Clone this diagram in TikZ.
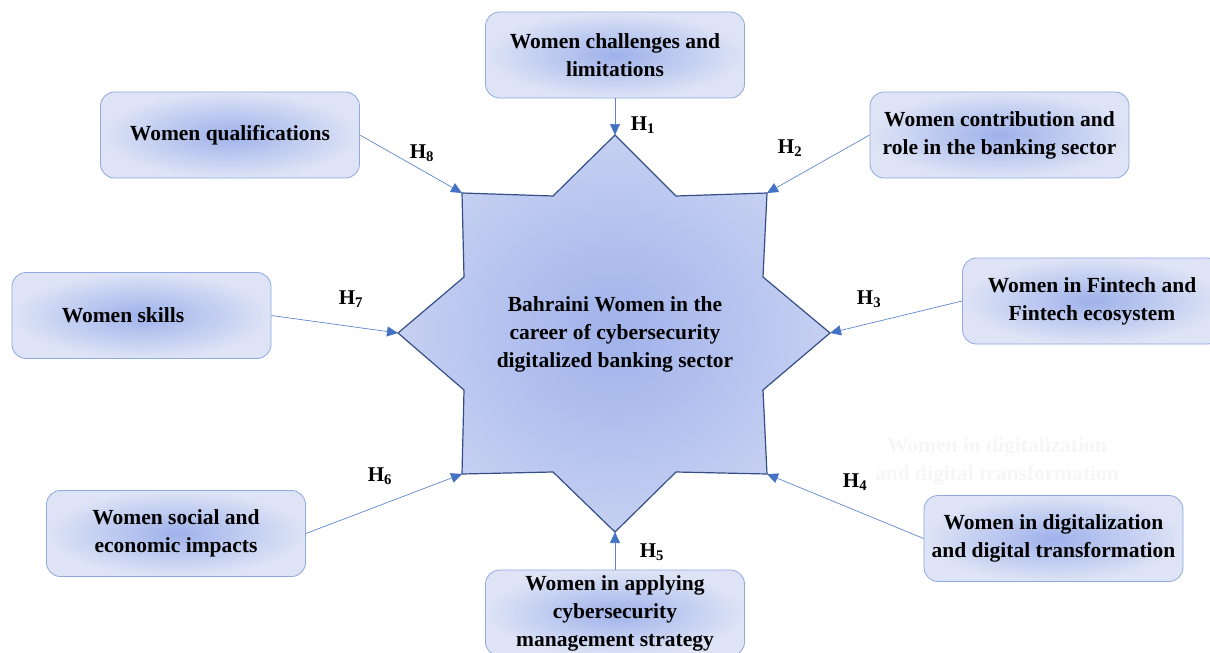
\documentclass[tikz,border=0pt]{standalone}
\usepackage{fontspec}
\setmainfont{Liberation Serif}
\usetikzlibrary{positioning,arrows.meta}

\definecolor{boxline}{RGB}{143,168,222}
\definecolor{boxmid}{RGB}{158,177,234}
\definecolor{boxout}{RGB}{222,228,246}
\definecolor{starline}{RGB}{52,78,135}
\definecolor{starmid}{RGB}{160,178,234}
\definecolor{starout}{RGB}{198,208,242}
\definecolor{arrowcol}{RGB}{68,114,196}
\definecolor{ghostcol}{RGB}{246,246,246}

\tikzset{
  factor/.style={draw=boxline, line width=0.8pt, rounded corners=14pt,
    inner color=boxmid, outer color=boxout, align=center,
    minimum width=259pt, minimum height=86pt, inner sep=0pt,
    font=\bfseries\fontsize{21.5}{28}\selectfont},
  hub/.style={align=center, font=\bfseries\fontsize{21.5}{28}\selectfont},
  hyp/.style={font=\bfseries\fontsize{21}{24}\selectfont, inner sep=0pt},
  link/.style={draw=arrowcol!85, line width=0.7pt,
    -{Triangle[length=11pt,width=10pt,color=arrowcol]}}
}

\begin{document}
\begin{tikzpicture}[x=1pt,y=-1pt]
\useasboundingbox (0,0) rectangle (1210,653);

% star points
\coordinate (s1) at (615,135);
\coordinate (s2) at (767,193);
\coordinate (s3) at (830,333);
\coordinate (s4) at (767,474);
\coordinate (s5) at (615,532);
\coordinate (s6) at (462,474);
\coordinate (s7) at (398,333);
\coordinate (s8) at (462,193);

\path[draw=starline, line width=1.2pt, line join=miter, inner color=starmid, outer color=starout]
(s1) -- (676,196) -- (s2) -- (763,277) -- (s3) -- (763,390) -- (s4) -- (676,472) --
(s5) -- (553,472) -- (s6) -- (464,390) -- (s7) -- (464,277) -- (s8) -- (553,196) -- cycle;

\node[hub](0) at (615,334){Bahraini Women in the\\career of cybersecurity\\digitalized banking sector};

\node[factor](1) at (615,55){Women challenges and\\limitations};
\node[factor](2) at (999.5,135){Women contribution and\\role in the banking sector};
\node[factor](3) at (1092,301){Women in Fintech and\\Fintech ecosystem};
\node[factor](4) at (1053.5,538.5){Women in digitalization\\and digital transformation};
\node[factor](5) at (615,613){Women in applying\\cybersecurity\\management strategy};
\node[factor](6) at (176,533.5){Women social and\\economic impacts};
\node[factor](7) at (141.5,315.5){\hspace*{-37pt}Women skills};
\node[factor](8) at (230,135){Women qualifications};

\node[hub, text=ghostcol](9) at (997,461){Women in digitalization\\and digital transformation};

\path
(1.south) edge[link] (s1)
(2.west) edge[link] (s2)
(3.west) edge[link] (s3)
(4.west) edge[link] (s4)
(5.north) edge[link] (s5)
(6.east) edge[link] (s6)
(7.east) edge[link] (s7)
(8.east) edge[link] (s8);

\node[hyp](h1) at (643,125){H\textsubscript{1}};
\node[hyp](h2) at (790,148){H\textsubscript{2}};
\node[hyp](h3) at (869,299){H\textsubscript{3}};
\node[hyp](h4) at (855,482){H\textsubscript{4}};
\node[hyp](h5) at (652,552){H\textsubscript{5}};
\node[hyp](h6) at (380,476){H\textsubscript{6}};
\node[hyp](h7) at (351,299){H\textsubscript{7}};
\node[hyp](h8) at (422,153){H\textsubscript{8}};

\end{tikzpicture}
\end{document}
